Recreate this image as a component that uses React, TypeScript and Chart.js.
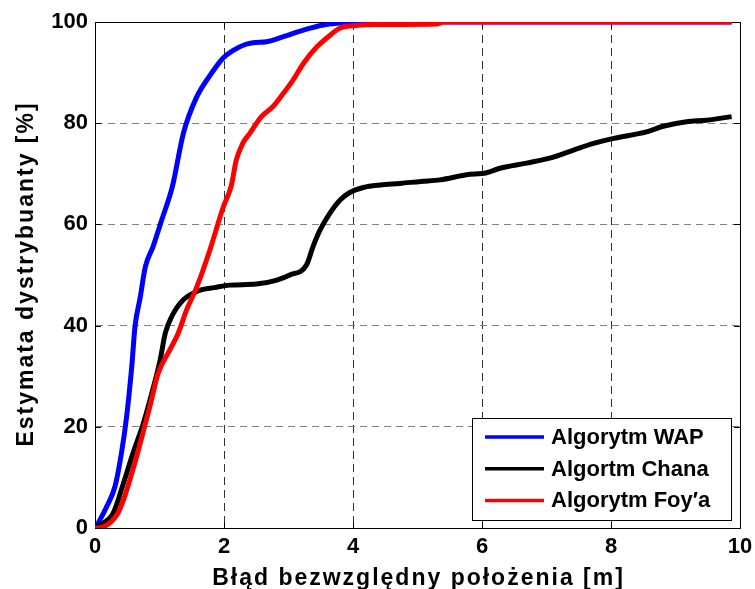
import React, { useEffect, useRef } from 'react';
import { Chart, registerables } from 'chart.js';

Chart.register(...registerables);

const xTicks = [0, 2, 4, 6, 8, 10];
const yTicks = [0, 20, 40, 60, 80, 100];
const xTitle = 'Błąd bezwzględny położenia [m]';
const yTitle = 'Estymata dystrybuanty [%]';
const seriesLabels = ['Algorytm WAP', 'Algortm Chana', 'Algorytm Foy′a'];
const seriesColors = ['#0000ff', '#000000', '#ff0000'];

const wapX = [0, 0.05, 0.18, 0.31, 0.41, 0.49, 0.57, 0.62, 0.7, 0.78, 0.9, 1.03, 1.2, 1.37, 1.57, 1.77, 1.98, 2.13, 2.34, 2.45, 2.66, 2.92, 3.23, 3.54, 3.8, 4.0, 9.87];
const wapY = [0, 1, 4.2, 8.2, 14.8, 22, 31.9, 39.8, 45.5, 51.6, 55.6, 60.7, 67.5, 78, 85, 89.2, 92.8, 94.3, 95.6, 95.9, 96.1, 97.1, 98.4, 99.4, 99.8, 100, 100];

const chanaX = [0, 0.03, 0.28, 0.44, 0.59, 0.75, 0.88, 1.01, 1.09, 1.19, 1.37, 1.63, 1.85, 2.09, 2.5, 2.82, 3.02, 3.28, 3.38, 3.49, 3.64, 3.8, 3.95, 4.16, 4.42, 4.73, 5.05, 5.35, 5.76, 6.07, 6.28, 6.69, 7.05, 7.42, 7.73, 8.04, 8.55, 8.81, 9.17, 9.48, 9.87];
const chanaY = [0, 0.3, 2.9, 8.8, 14.8, 20.7, 26.6, 33.2, 38.5, 41.8, 45.1, 47, 47.5, 48, 48.2, 49, 50, 52, 55.6, 58.9, 62.2, 64.8, 66.3, 67.3, 67.8, 68.1, 68.5, 68.8, 69.8, 70.2, 71.1, 72.1, 73.1, 74.7, 76, 77, 78.3, 79.4, 80.3, 80.6, 81.3];

const foyX = [0, 0.03, 0.34, 0.44, 0.57, 0.7, 0.85, 0.98, 1.16, 1.29, 1.42, 1.58, 1.78, 1.99, 2.11, 2.19, 2.29, 2.4, 2.58, 2.76, 2.92, 3.07, 3.23, 3.44, 3.59, 3.8, 3.95, 4.3, 5.3, 5.4, 9.87];
const foyY = [0, 0, 2.6, 5.5, 10.8, 16.7, 24, 30.6, 35.2, 38.5, 43.1, 47.7, 54.9, 63.5, 67.5, 72.7, 76, 78, 81.3, 83.3, 85.9, 88.5, 91.8, 95.1, 96.8, 98.8, 99.2, 99.5, 99.6, 100, 100];

const toPoints = (xs: number[], ys: number[]) => xs.map((x, i) => ({ x, y: ys[i] }));

const FONT = '"Liberation Sans", Arial, Helvetica, sans-serif';

const framePlugin = {
  id: 'frame',
  beforeDatasetsDraw(chart: any) {
    const { ctx, chartArea: a } = chart;
    const xs = chart.scales.x;
    const ys = chart.scales.y;
    ctx.save();
    ctx.strokeStyle = '#000';
    ctx.lineWidth = 1;
    ctx.setLineDash([]);
    ctx.strokeRect(Math.round(a.left) + 0.5, Math.round(a.top) + 0.5, Math.round(a.right - a.left), Math.round(a.bottom - a.top));
    ctx.beginPath();
    for (const t of xTicks) {
      const px = Math.round(xs.getPixelForValue(t)) + 0.5;
      ctx.moveTo(px, a.bottom);
      ctx.lineTo(px, a.bottom - 6);
      ctx.moveTo(px, a.top);
      ctx.lineTo(px, a.top + 6);
    }
    for (const t of yTicks) {
      const py = Math.round(ys.getPixelForValue(t)) + 0.5;
      ctx.moveTo(a.left, py);
      ctx.lineTo(a.left + 6, py);
      ctx.moveTo(a.right, py);
      ctx.lineTo(a.right - 6, py);
    }
    ctx.stroke();
    ctx.restore();
  },
  afterDraw(chart: any) {
    const { ctx, chartArea: a } = chart;
    ctx.save();
    // legend box
    const bw = 259;
    const bh = 102;
    const bx = Math.round(a.right - 268);
    const by = Math.round(a.bottom - 110);
    ctx.fillStyle = '#fff';
    ctx.fillRect(bx, by, bw, bh);
    ctx.strokeStyle = '#000';
    ctx.lineWidth = 1;
    ctx.strokeRect(bx + 0.5, by + 0.5, bw, bh);
    chart.data.datasets.forEach((ds: any, i: number) => {
      const y = by + 19 + i * 31.7;
      ctx.strokeStyle = ds.borderColor;
      ctx.lineWidth = 3.5;
      ctx.beginPath();
      ctx.moveTo(bx + 13, y);
      ctx.lineTo(bx + 72, y);
      ctx.stroke();
      ctx.fillStyle = '#000';
      ctx.font = `bold 22px ${FONT}`;
      ctx.textAlign = 'left';
      ctx.textBaseline = 'middle';
      ctx.fillText(ds.label, bx + 79, y + 1);
    });
    // axis titles
    ctx.fillStyle = '#000';
    ctx.font = `bold 23px ${FONT}`;
    (ctx as any).letterSpacing = '2px';
    ctx.textAlign = 'center';
    ctx.textBaseline = 'alphabetic';
    ctx.fillText(xTitle, (a.left + a.right) / 2 + 1, 585);
    ctx.translate(33, (a.top + a.bottom) / 2);
    ctx.rotate(-Math.PI / 2);
    ctx.fillText(yTitle, 1, 0);
    (ctx as any).letterSpacing = '0px';
    ctx.restore();
  },
};

export default function App() {
  const canvasRef = useRef<HTMLCanvasElement | null>(null);

  useEffect(() => {
    const canvas = canvasRef.current;
    if (!canvas) return;
    const seriesData = [toPoints(wapX, wapY), toPoints(chanaX, chanaY), toPoints(foyX, foyY)];
    const chart = new Chart(canvas, {
      type: 'line',
      data: {
        datasets: seriesData.map((d, i) => ({
          label: seriesLabels[i],
          data: d,
          order: seriesData.length - i,
          borderColor: seriesColors[i],
          backgroundColor: seriesColors[i],
          borderWidth: 5,
          pointRadius: 0,
          fill: false,
          cubicInterpolationMode: 'monotone' as const,
          borderCapStyle: 'butt' as const,
          borderJoinStyle: 'round' as const,
        })),
      },
      options: {
        animation: false,
        responsive: false,
        events: [],
        layout: { padding: { left: 0, top: 22, right: 15, bottom: 0 } },
        plugins: {
          legend: { display: false },
          tooltip: { enabled: false },
          title: { display: false },
        },
        scales: {
          x: {
            type: 'linear',
            min: 0,
            max: 10,
            afterFit: (scale: any) => {
              scale.height = 61;
              scale.paddingRight = 0;
              scale.paddingLeft = 0;
            },
            afterBuildTicks: (scale: any) => {
              scale.ticks = xTicks.map((v) => ({ value: v }));
            },
            ticks: {
              color: '#000',
              font: { family: FONT, size: 22, weight: 'bold' },
              padding: 6,
              maxRotation: 0,
              autoSkip: false,
            },
            grid: { color: '#333', lineWidth: 1, drawTicks: false },
            border: { display: true, color: '#000', width: 1, dash: [8, 5] },
          },
          y: {
            type: 'linear',
            min: 0,
            max: 100,
            afterFit: (scale: any) => {
              scale.width = 95;
              scale.paddingTop = 0;
              scale.paddingBottom = 0;
            },
            afterBuildTicks: (scale: any) => {
              scale.ticks = yTicks.map((v) => ({ value: v }));
            },
            ticks: {
              color: '#000',
              font: { family: FONT, size: 22, weight: 'bold' },
              padding: 7,
              autoSkip: false,
            },
            grid: { color: '#808080', lineWidth: 1, drawTicks: false },
            border: { display: true, color: '#000', width: 1, dash: [7, 5] },
          },
        },
      },
      plugins: [framePlugin],
    });
    return () => chart.destroy();
  }, []);

  return (
    <div style={{ position: 'absolute', left: 0, top: 0, width: 755, height: 589, background: '#fff' }}>
      <canvas ref={canvasRef} width={755} height={589} style={{ display: 'block' }} />
    </div>
  );
}
